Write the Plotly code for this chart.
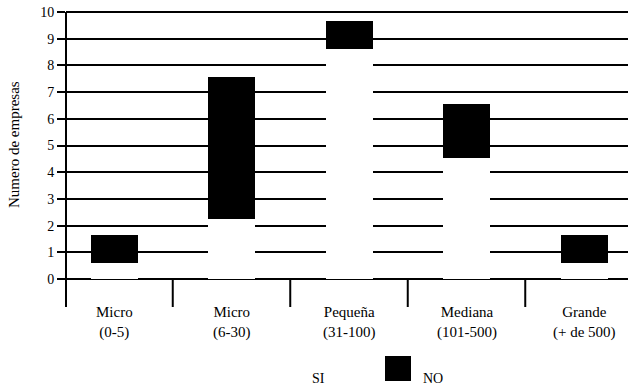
import plotly.graph_objects as go

categories = ["Micro<br>(0-5)", "Micro<br>(6-30)", "Pequeña<br>(31-100)", "Mediana<br>(101-500)", "Grande<br>(+ de 500)"]
si_values = [0.6, 2.25, 8.6, 4.55, 0.6]
no_values = [1.05, 5.3, 1.05, 2.0, 1.05]
y_ticks = [0, 1, 2, 3, 4, 5, 6, 7, 8, 9, 10]

FONT = "'Liberation Serif', 'DejaVu Serif', serif"
xs = list(range(len(categories)))

fig = go.Figure()
fig.add_trace(go.Bar(x=xs, y=si_values, name="SI", width=0.4,
                     marker=dict(color="white", line=dict(width=0)), showlegend=False))
fig.add_trace(go.Bar(x=xs, y=no_values, name="NO", width=0.4,
                     marker=dict(color="black", line=dict(width=0)), showlegend=False))

W, H = 628, 388
L, R, T, B = 66, 0, 12, 109
pw = W - L - R
ph = H - T - B

def px_x(p):
    return (p - L) / pw

def px_y(p):
    return (H - B - p) / ph

shapes = []
shapes.append(dict(type="line", xref="paper", yref="paper", x0=0, x1=0, y0=px_y(307), y1=1,
                   line=dict(color="black", width=2)))
for k in range(len(categories) - 1):
    shapes.append(dict(type="line", xref="x", yref="paper", x0=k + 0.5, x1=k + 0.5,
                       y0=px_y(307), y1=0, line=dict(color="black", width=2)))
shapes.append(dict(type="line", xref="paper", yref="paper", x0=0, x1=1, y0=1, y1=1,
                   line=dict(color="black", width=2)))
shapes.append(dict(type="rect", xref="paper", yref="paper", x0=px_x(280), x1=px_x(306),
                   y0=px_y(381), y1=px_y(356), fillcolor="white", line=dict(width=0)))
shapes.append(dict(type="rect", xref="paper", yref="paper", x0=px_x(385), x1=px_x(411),
                   y0=px_y(381), y1=px_y(356), fillcolor="black", line=dict(width=0)))

annotations = []
for i, c in enumerate(categories):
    annotations.append(dict(x=i, y=px_y(322), xref="x", yref="paper", text=c, showarrow=False,
                            xanchor="center", yanchor="middle",
                            font=dict(family=FONT, size=15, color="black")))
annotations.append(dict(x=px_x(14), y=px_y(145), xref="paper", yref="paper", text="Numero de empresas",
                        textangle=-90, showarrow=False, xanchor="center", yanchor="middle",
                        font=dict(family=FONT, size=15, color="black")))
annotations.append(dict(x=px_x(318), y=px_y(378), xref="paper", yref="paper", text="SI",
                        showarrow=False, xanchor="center", yanchor="middle",
                        font=dict(family=FONT, size=14, color="black")))
annotations.append(dict(x=px_x(433), y=px_y(378), xref="paper", yref="paper", text="NO",
                        showarrow=False, xanchor="center", yanchor="middle",
                        font=dict(family=FONT, size=14, color="black")))

x0 = 0 - (114 - L) / 117.5
x1 = x0 + pw / 117.5

fig.update_layout(
    width=W, height=H, barmode="stack",
    margin=dict(l=L, r=R, t=T, b=B, pad=0),
    paper_bgcolor="white", plot_bgcolor="white",
    font=dict(family=FONT, color="black"),
    shapes=shapes, annotations=annotations,
    xaxis=dict(range=[x0, x1], showgrid=False, zeroline=False, showticklabels=False,
               ticks="", showline=False, fixedrange=True),
    yaxis=dict(range=[0, 10], tickvals=y_ticks, ticktext=[str(v) for v in y_ticks],
               showgrid=True, gridcolor="black", gridwidth=2,
               zeroline=True, zerolinecolor="black", zerolinewidth=2,
               showline=False, ticks="outside", ticklen=8, tickwidth=2, tickcolor="black",
               tickfont=dict(family=FONT, size=14, color="black"), fixedrange=True),
    showlegend=False,
)

fig.write_html("out.html", config={"displayModeBar": False},
               post_script="document.body.style.margin='0';document.body.style.overflow='hidden';")
